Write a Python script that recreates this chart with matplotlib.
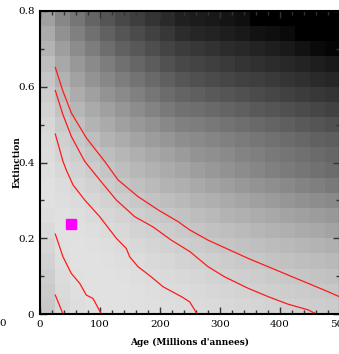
import numpy as np
import matplotlib
matplotlib.use("Agg")
import matplotlib.pyplot as plt

# Gray levels (0-255) of the 20x20 grid, rows from top (extinction 0.8) to bottom (0)
gray_rows = [
    [160, 135, 118, 100, 85, 72, 62, 52, 42, 32, 28, 25, 20, 15, 0, 0, 0, 0, 0, 0],
    [170, 145, 128, 112, 98, 85, 75, 65, 55, 45, 38, 35, 30, 25, 18, 15, 10, 0, 0, 0],
    [180, 158, 140, 125, 110, 98, 88, 78, 68, 60, 55, 50, 45, 40, 35, 30, 25, 18, 10, 5],
    [190, 168, 152, 138, 125, 112, 102, 92, 82, 72, 68, 63, 58, 53, 48, 45, 40, 35, 30, 25],
    [198, 178, 162, 148, 135, 125, 115, 105, 95, 86, 80, 75, 70, 66, 62, 58, 53, 48, 42, 38],
    [205, 188, 172, 160, 148, 138, 128, 118, 108, 100, 95, 90, 85, 80, 75, 70, 65, 60, 56, 52],
    [210, 195, 182, 170, 160, 150, 140, 132, 122, 114, 110, 105, 100, 95, 90, 85, 80, 75, 70, 65],
    [215, 202, 192, 180, 170, 160, 152, 145, 136, 128, 125, 120, 115, 110, 105, 100, 95, 90, 85, 80],
    [218, 208, 200, 190, 180, 172, 164, 156, 150, 142, 138, 133, 128, 123, 118, 113, 108, 103, 98, 94],
    [220, 212, 205, 198, 190, 182, 175, 168, 162, 155, 148, 143, 138, 132, 127, 122, 117, 112, 107, 102],
    [222, 216, 210, 204, 197, 190, 183, 177, 171, 165, 158, 152, 146, 140, 134, 128, 123, 118, 113, 108],
    [224, 220, 215, 210, 204, 198, 192, 186, 180, 175, 169, 163, 158, 152, 147, 142, 137, 132, 127, 122],
    [224, 222, 219, 215, 210, 205, 200, 195, 190, 185, 180, 175, 170, 165, 160, 155, 150, 145, 141, 137],
    [222, 224, 222, 219, 215, 211, 207, 202, 198, 194, 189, 185, 180, 176, 172, 168, 164, 160, 156, 152],
    [218, 225, 224, 222, 219, 216, 212, 208, 205, 201, 197, 193, 190, 186, 182, 178, 175, 171, 168, 164],
    [214, 224, 225, 224, 222, 219, 216, 213, 210, 207, 204, 200, 197, 194, 191, 188, 185, 182, 179, 176],
    [210, 222, 225, 225, 224, 222, 220, 217, 215, 212, 209, 207, 204, 201, 199, 196, 193, 190, 188, 185],
    [206, 220, 224, 225, 225, 224, 222, 220, 218, 216, 214, 212, 209, 207, 205, 202, 200, 198, 196, 193],
    [203, 218, 223, 225, 225, 225, 224, 222, 220, 219, 217, 215, 213, 211, 209, 207, 205, 203, 201, 199],
    [200, 216, 222, 224, 225, 225, 224, 223, 222, 221, 219, 218, 216, 214, 213, 211, 209, 207, 205, 203],
]

# Red contour lines (age, extinction)
line_a_x = [25.5, 38.3]
line_a_y = [0.050, 0.0]
line_b_x = [25.5, 38.3, 52.2, 66.2, 77.2, 88.3, 102.2]
line_b_y = [0.211, 0.151, 0.107, 0.081, 0.050, 0.041, 0.0]
line_e_x = [25.5, 38.3, 43.8, 55, 74.5, 99.5, 127.2, 143.8, 149.5, 163.3, 185.5, 205, 235.5, 249.5, 262]
line_e_y = [0.475, 0.403, 0.380, 0.341, 0.301, 0.257, 0.200, 0.173, 0.151, 0.125, 0.098, 0.072, 0.046, 0.032, 0.0]
line_d_x = [25.5, 38.3, 52.2, 74.5, 99.5, 127.2, 157.8, 188.3, 218.8, 249.5, 280, 307.8, 346.7, 380, 413.3, 446.7, 460.5]
line_d_y = [0.590, 0.526, 0.469, 0.403, 0.354, 0.301, 0.257, 0.230, 0.195, 0.165, 0.125, 0.098, 0.068, 0.046, 0.026, 0.011, 0.0]
line_c_x = [25.5, 38.3, 52.2, 77.2, 107.8, 130, 163.3, 196.7, 230, 249.5, 280, 313.3, 346.7, 380, 413.3, 446.7, 480, 500]
line_c_y = [0.651, 0.588, 0.531, 0.465, 0.403, 0.354, 0.310, 0.275, 0.244, 0.222, 0.195, 0.171, 0.147, 0.125, 0.103, 0.081, 0.059, 0.045]

marker_x = [51.7]
marker_y = [0.238]

x_ticks = [0, 100, 200, 300, 400, 500]
y_ticks = [0, 0.2, 0.4, 0.6, 0.8]
y_ticklabels = ["0", "0.2", "0.4", "0.6", "0.8"]

fig = plt.figure(figsize=(3.39, 3.54), dpi=100)
ax = fig.add_axes([40 / 339, 40 / 354, 300 / 339, 303 / 354])

ax.imshow(np.array(gray_rows), cmap="gray", vmin=0, vmax=255,
          extent=[0, 500, 0, 0.8], aspect="auto", interpolation="nearest")

for xs, ys in [(line_a_x, line_a_y), (line_b_x, line_b_y), (line_e_x, line_e_y),
               (line_d_x, line_d_y), (line_c_x, line_c_y)]:
    ax.plot(xs, ys, color="#ff1a1a", lw=0.9)

ax.plot(marker_x, marker_y, marker="s", color="#ff00ff", ms=7, ls="none")

ax.set_xlim(0, 500)
ax.set_ylim(0, 0.8)
ax.set_xticks(x_ticks)
ax.set_xticklabels([str(t) for t in x_ticks])
ax.set_yticks(y_ticks)
ax.set_yticklabels(y_ticklabels)
ax.set_xticks(np.arange(0, 501, 20), minor=True)
ax.set_yticks(np.arange(0, 0.81, 0.1), minor=True)
ax.tick_params(which="both", direction="in", top=True, right=True, width=1.0,
               color="#333333", labelsize=7.5)
ax.tick_params(which="major", length=5, pad=4)
ax.tick_params(which="minor", length=3)
for lab in ax.get_xticklabels() + ax.get_yticklabels():
    lab.set_family("DejaVu Serif")
for sp in ax.spines.values():
    sp.set_linewidth(1.5)

ax.set_xlabel("Age (Millions d'annees)", family="DejaVu Serif", fontweight="bold",
              fontsize=6.5)
ax.set_ylabel("Extinction", family="DejaVu Serif", fontweight="bold", fontsize=6.5)
ax.xaxis.set_label_coords(0.5, -0.08)
ax.yaxis.set_label_coords(-0.06, 0.5)

fig.text(3 / 339, 1 - 323 / 354, "0", family="DejaVu Serif", fontsize=7.5,
         ha="center", va="center")

fig.savefig("out.png", dpi=100)
